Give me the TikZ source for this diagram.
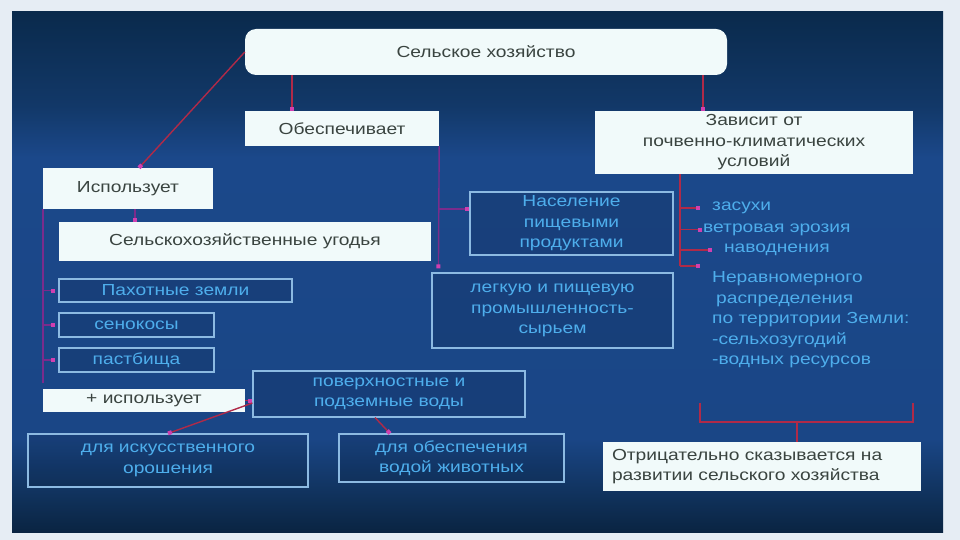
\documentclass[tikz,border=0pt]{standalone}
\usepackage{fontspec}
\setmainfont[FakeStretch=1.2]{Liberation Sans}
\usetikzlibrary{arrows.meta}
\definecolor{margin}{HTML}{E6EDF4}
\definecolor{pdark}{HTML}{0A2442}
\definecolor{pdark2}{HTML}{0F3058}
\definecolor{pmid}{HTML}{1A4686}
\definecolor{pmid2}{HTML}{1B488A}
\definecolor{ptop2}{HTML}{123868}
\definecolor{ptop}{HTML}{0A2A4C}
\definecolor{wfill}{HTML}{F1FAFA}
\definecolor{wtext}{HTML}{3A4440}
\definecolor{btext}{HTML}{4EAEEC}
\definecolor{bline}{HTML}{8CBAE2}
\definecolor{connR}{HTML}{B02A48}
\definecolor{connP}{HTML}{7A2C8C}
\definecolor{tipc}{HTML}{D040B0}
\pgfdeclareverticalshading{panelshade}{100bp}{color(0bp)=(pdark); color(25bp)=(pdark); color(28bp)=(pdark2); color(34bp)=(pmid); color(61bp)=(pmid2); color(66bp)=(ptop2); color(75bp)=(ptop); color(100bp)=(ptop)}
\begin{document}
\begin{tikzpicture}[x=1pt,y=-1pt,
  every node/.style={font=\fontsize{16}{20.5}\selectfont},
  wbox/.style={fill=wfill, text=wtext, inner sep=0pt, align=center},
  bbox/.style={draw=bline, line width=1.1pt, fill=black, fill opacity=0.1, text opacity=1, text=btext, inner sep=0pt, align=center},
  btxt/.style={text=btext, inner sep=0pt, align=left},
  connred/.style={draw=connR, line width=1.4pt, -{Square[length=4pt,width=4pt,color=tipc]}},
  connpur/.style={draw=connP, line width=1.4pt, -{Square[length=4pt,width=4pt,color=tipc]}},
  plainred/.style={draw=connR, line width=1.6pt},
  plainpur/.style={draw=connP, line width=1.4pt}
]
% background
\fill[margin] (0,0) rectangle (960,540);
\shade[shading=panelshade] (12,12) rectangle (943,532);
\useasboundingbox (0,0) rectangle (960,540);

% white boxes
\node[wbox, rounded corners=11pt, minimum width=482pt, minimum height=46pt] (sh) at (486,52) {Сельское хозяйство};
\node[wbox, minimum width=194pt, minimum height=35pt] (obes) at (342,128.5) {Обеспечивает};
\node[wbox, minimum width=318pt, minimum height=63pt] (zav) at (754,142.5) {Зависит от\\почвенно-климатических\\условий};
\node[wbox, minimum width=170pt, minimum height=41pt] (isp) at (128,188.5) {Использует};
\node[wbox, minimum width=372pt, minimum height=39pt] (ugod) at (245,241.5) {Сельскохозяйственные угодья};
\node[wbox, minimum width=202pt, minimum height=23pt] (plus) at (144,400.5) {+ использует};
\node[wbox, minimum width=318pt, minimum height=49pt, text width=300pt, align=left] (otr) at (762,466.5) {Отрицательно сказывается на\\развитии сельского хозяйства};

% outlined boxes
\node[bbox, minimum width=233pt, minimum height=23pt] (pah) at (175.5,290.5) {Пахотные земли};
\node[bbox, minimum width=155pt, minimum height=24pt] (sen) at (136.5,325) {сенокосы};
\node[bbox, minimum width=155pt, minimum height=24pt] (pas) at (136.5,360) {пастбища};
\node[bbox, minimum width=272pt, minimum height=46pt] (pov) at (389,394) {поверхностные и\\подземные воды};
\node[bbox, minimum width=280pt, minimum height=53pt] (oros) at (168,460.5) {для искусственного\\орошения};
\node[bbox, minimum width=225pt, minimum height=48pt] (zhiv) at (451.5,458) {для обеспечения\\водой животных};
\node[bbox, minimum width=203pt, minimum height=63pt] (nas) at (571.5,223.5) {Население\\пищевыми\\продуктами};
\node[bbox, minimum width=241pt, minimum height=75pt] (leg) at (552.5,310.5) {легкую и пищевую\\промышленность-\\сырьем};

% right column texts
\node[btxt, anchor=west] (zas) at (712,208) {засухи};
\node[btxt, anchor=west] (vet) at (703,229.5) {ветровая эрозия};
\node[btxt] (nav) at (777,250) {наводнения};
\node[btxt, anchor=west] (ner) at (712,320) {Неравномерного\\\hspace{4pt}распределения\\по территории Земли:\\-сельхозугодий\\-водных ресурсов};

% connectors from the top
\draw[connred] (sh.west) -- ([xshift=11pt]isp.north);
\draw[connred] ([xshift=-50pt]obes.north |- sh.south) -- ([xshift=-50pt]obes.north);
\draw[connred] ([xshift=-51pt]zav.north |- sh.south) -- ([xshift=-51pt]zav.north);

% Обеспечивает
\coordinate (nasin) at ([yshift=14.5pt]nas.west);
\draw[connpur] (obes.south east) -- ([xshift=7pt,yshift=4pt]leg.north west);
\draw[connpur] (obes.south east |- nasin) -- (nasin);

% Зависит от
\coordinate (zv) at ([xshift=85pt]zav.south west);
\coordinate (zasin) at ([xshift=-12pt]zas.west);
\coordinate (vetin) at ([xshift=-1pt]vet.west);
\coordinate (navin) at ([xshift=-65pt]nav.center);
\coordinate (nerin) at ([xshift=-12pt,yshift=54pt]ner.west);
\draw[plainred] (zv) -- (zv |- nerin);
\draw[connred] (zv |- zasin) -- (zasin);
\draw[connred] (zv |- vetin) -- (vetin);
\draw[connred] (zv |- navin) -- (navin);
\draw[connred] (zv |- nerin) -- (nerin);

% Использует
\draw[connpur] ([xshift=7pt]isp.south) -- ([xshift=7pt]isp.south |- ugod.north);
\draw[plainpur] (isp.south west) -- ([yshift=6pt]plus.north west);
\draw[connpur, shorten >=3pt] (isp.south west |- pah.west) -- (pah.west);
\draw[connpur, shorten >=3pt] (isp.south west |- sen.west) -- (sen.west);
\draw[connpur, shorten >=3pt] (isp.south west |- pas.west) -- (pas.west);

% воды
\draw[connred] (plus.east) -- (plus.east -| pov.west);
\draw[connred] ([yshift=-9pt]pov.west) -- (oros.north);
\draw[connred] ([xshift=-14pt]pov.south) -- ([xshift=-61.5pt]zhiv.north);

% bracket
\coordinate (brl) at ([xshift=97pt,yshift=20pt]otr.north west);
\coordinate (brr) at ([xshift=-8pt,yshift=20pt]otr.north east);
\coordinate (brm) at ([xshift=35pt,yshift=20pt]otr.north);
\draw[plainred] ([yshift=19pt]brl) -- (brl) -- (brr) -- ([yshift=19pt]brr);
\draw[plainred] (brm) -- (brm |- otr.north);
\end{tikzpicture}
\end{document}
